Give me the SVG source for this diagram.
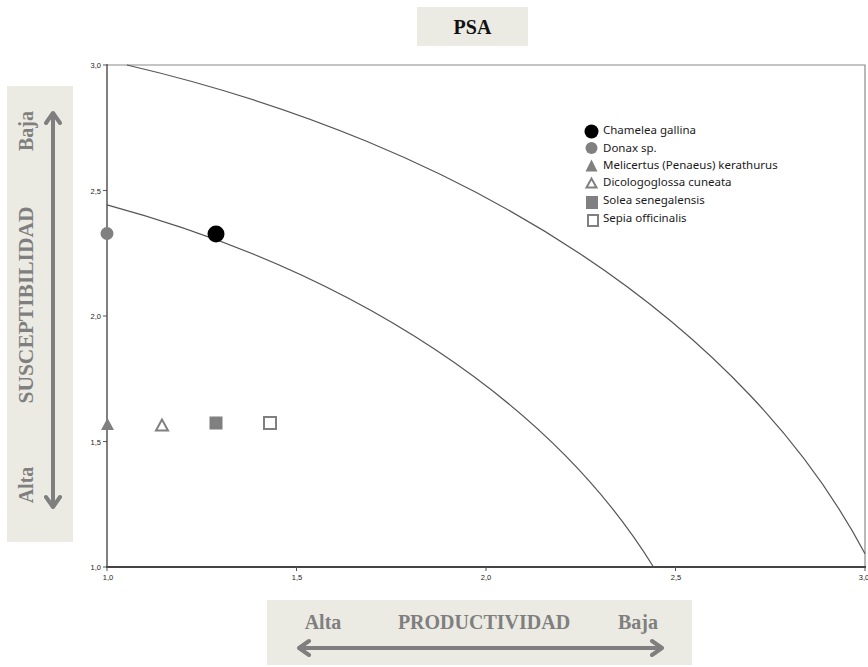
<svg xmlns="http://www.w3.org/2000/svg" width="868" height="667" viewBox="0 0 868 667">
<style>
.box{fill:#ecebe3}
.lbl{font-family:"Liberation Serif","Times New Roman",serif;font-weight:bold;fill:#7f7f7f;font-size:20px}
.tick{font-family:"Liberation Sans",Arial,sans-serif;font-size:7.5px;fill:#222}
.leg{font-family:"Noto Sans","Open Sans",sans-serif;font-size:11.5px;fill:#1a1a1a}
.arr{stroke:#7f7f7f;stroke-width:4;fill:none;stroke-linecap:round;stroke-linejoin:round}
.curve{fill:none;stroke:#555;stroke-width:1.2}
.gray{fill:#808080}
.open{fill:#fff;stroke:#808080;stroke-width:2}
</style>
<rect width="868" height="667" fill="#fff"/>
<g id="title">
<rect class="box" x="417" y="7" width="111" height="39"/>
<text x="472.5" y="34" text-anchor="middle" font-family="Liberation Serif,'Times New Roman',serif" font-weight="bold" font-size="20" fill="#111">PSA</text>
</g>
<g id="y-label">
<rect class="box" x="7" y="86" width="66" height="456"/>
<text class="lbl" transform="translate(33,131) rotate(-90)" text-anchor="middle">Baja</text>
<text class="lbl" transform="translate(33,305) rotate(-90)" text-anchor="middle" style="font-size:21.5px">SUSCEPTIBILIDAD</text>
<text class="lbl" transform="translate(33,485) rotate(-90)" text-anchor="middle">Alta</text>
<path class="arr" d="M53,114 V506 M46,123 L53,113 L60,123 M46,497 L53,507 L60,497"/>
</g>
<g id="x-label">
<rect class="box" x="267" y="600" width="425" height="65"/>
<text class="lbl" x="323" y="629" text-anchor="middle">Alta</text>
<text class="lbl" x="484" y="629" text-anchor="middle">PRODUCTIVIDAD</text>
<text class="lbl" x="638" y="629" text-anchor="middle">Baja</text>
<path class="arr" d="M300,648 H661 M309,641 L299,648 L309,655 M652,641 L662,648 L652,655"/>
</g>
<g id="axes">
<path d="M107,65 H865 V567" fill="none" stroke="#8a8a8a" stroke-width="1.2"/>
<path d="M107,64 V568" stroke="#555" stroke-width="1.5"/>
<path d="M106,567 H866" stroke="#444" stroke-width="2"/>
<path d="M103,65 H107 M103,190.5 H107 M103,316 H107 M103,441.5 H107 M103,567 H107 M107,567 V571 M296.5,567 V571 M486,567 V571 M675.5,567 V571 M865,567 V571" stroke="#555" stroke-width="1"/>
<text class="tick" x="101" y="68" text-anchor="end">3,0</text>
<text class="tick" x="101" y="193.5" text-anchor="end">2,5</text>
<text class="tick" x="101" y="319" text-anchor="end">2,0</text>
<text class="tick" x="101" y="444.5" text-anchor="end">1,5</text>
<text class="tick" x="101" y="570" text-anchor="end">1,0</text>
<text class="tick" x="108" y="580" text-anchor="middle">1,0</text>
<text class="tick" x="297" y="580" text-anchor="middle">1,5</text>
<text class="tick" x="486" y="580" text-anchor="middle">2,0</text>
<text class="tick" x="676" y="580" text-anchor="middle">2,5</text>
<text class="tick" x="864" y="580" text-anchor="middle">3,0</text>
</g>
<g id="curves">
<path class="curve" d="M126.9,65 A1205,798 0 0 1 865,553.7"/>
<path class="curve" d="M107,204.9 A1000,662.5 0 0 1 653.5,567"/>
</g>
<g id="points">
<circle class="gray" cx="107" cy="233.5" r="6.5"/>
<circle cx="216" cy="234" r="8.5" fill="#000"/>
<polygon class="gray" points="107.5,418 101,430 114,430"/>
<polygon class="open" points="162,419.5 156,430.5 168,430.5"/>
<rect class="gray" x="209.5" y="416.5" width="13" height="13"/>
<rect class="open" x="264" y="417" width="12" height="12"/>
</g>
<g id="legend">
<circle cx="591.5" cy="131.5" r="7" fill="#000"/>
<text class="leg" x="603" y="134">Chamelea gallina</text>
<circle class="gray" cx="591.5" cy="148" r="6"/>
<text class="leg" x="603" y="151.5">Donax sp.</text>
<polygon class="gray" points="591.5,159.5 585.5,171.5 597.5,171.5"/>
<text class="leg" x="603" y="169">Melicertus (Penaeus) kerathurus</text>
<polygon class="open" points="591.5,178.5 586.5,187.5 596.5,187.5"/>
<text class="leg" x="603" y="186">Dicologoglossa cuneata</text>
<rect class="gray" x="586" y="196" width="12" height="13"/>
<text class="leg" x="603" y="203.5">Solea senegalensis</text>
<rect class="open" x="588" y="215" width="10" height="11"/>
<text class="leg" x="603" y="221.5">Sepia officinalis</text>
</g>
</svg>
